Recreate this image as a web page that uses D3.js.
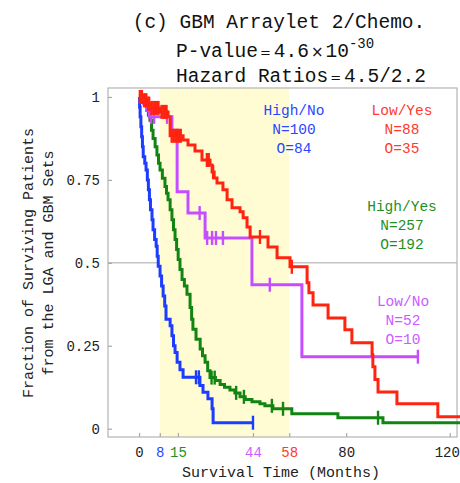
<!DOCTYPE html>
<html>
<head>
<meta charset="utf-8">
<script src="https://cdn.jsdelivr.net/npm/d3@7"></script>
<style>
  html, body { margin: 0; padding: 0; background: #fff; }
  svg { display: block; }
  text { font-family: "Liberation Mono", "DejaVu Sans Mono", monospace; }
</style>
</head>
<body>
<svg id="chart" width="460" height="483"></svg>
<script>
// Kaplan-Meier steps: [month, survival fraction after the drop]
const highNoSteps = [[0,1],[0.2,0.97],[0.4,0.94],[0.7,0.91],[1.0,0.88],[1.3,0.85],[1.6,0.82],[2.2,0.80],[2.7,0.78],[3.2,0.75],[3.6,0.72],[4.0,0.69],[4.4,0.66],[5.0,0.63],[5.4,0.60],[6.0,0.57],[6.6,0.55],[7.0,0.52],[7.4,0.49],[8.1,0.46],[8.7,0.43],[9.3,0.40],[9.9,0.37],[10.4,0.33],[12.0,0.31],[12.7,0.28],[13.3,0.25],[13.9,0.23],[14.7,0.20],[15.8,0.178],[17.0,0.155],[23.5,0.13],[24.7,0.11],[26.6,0.09],[28.2,0.06],[28.6,0.018]];
const highNoLast = 44;
const highNoCensored = [[22.0,0.155],[23.1,0.155],[44,0.018]];

const lowYesSteps = [[0,1],[1.5,0.99],[3.1,0.98],[4.2,0.967],[8.1,0.955],[11.2,0.94],[12.0,0.883],[17.0,0.87],[18.9,0.855],[21.6,0.837],[24.3,0.81],[27.4,0.795],[28.2,0.774],[29.0,0.756],[30.1,0.741],[32.4,0.72],[34.0,0.69],[35.9,0.666],[39.0,0.654],[40.2,0.636],[41.7,0.608],[42.9,0.578],[49.8,0.548],[53.3,0.515],[58.3,0.488],[64.9,0.44],[65.6,0.41],[67.2,0.373],[73.0,0.334],[79.5,0.298],[82.2,0.259],[90.0,0.223],[90.3,0.187],[91.1,0.148],[92.3,0.111],[99.6,0.075],[115.4,0.036]];
const lowYesLast = 124;
const lowYesCensored = [[0.3,1],[0.7,1],[1.1,1],[1.9,0.99],[2.4,0.99],[2.8,0.99],[3.5,0.98],[3.9,0.98],[4.8,0.967],[5.5,0.967],[6.2,0.967],[6.9,0.967],[7.5,0.967],[8.7,0.955],[9.4,0.955],[10.0,0.955],[10.6,0.955],[12.6,0.883],[13.3,0.883],[14.0,0.883],[14.7,0.883],[15.4,0.883],[16.1,0.883],[26.2,0.81],[26.9,0.81],[28.6,0.774],[46.7,0.578],[59.0,0.488]];

const highYesSteps = [[0,1],[1.2,0.995],[2.3,0.985],[3.0,0.96],[3.6,0.945],[4.2,0.93],[4.8,0.90],[5.4,0.875],[6.2,0.85],[6.9,0.825],[7.5,0.80],[8.1,0.78],[9.0,0.755],[10.0,0.73],[10.6,0.71],[11.2,0.69],[12.0,0.66],[12.7,0.63],[13.3,0.60],[13.9,0.57],[14.5,0.54],[15.1,0.51],[15.8,0.48],[16.6,0.45],[17.5,0.43],[18.5,0.405],[19.7,0.365],[20.3,0.33],[20.8,0.30],[22.0,0.27],[23.6,0.24],[24.5,0.22],[25.5,0.20],[26.5,0.175],[27.4,0.154],[29.5,0.145],[31.3,0.133],[33.0,0.125],[35.1,0.117],[37.0,0.108],[39.0,0.096],[41.0,0.088],[43.6,0.081],[46.7,0.075],[48.6,0.069],[51.7,0.06],[59.0,0.045],[76.8,0.033],[94.2,0.018]];
const highYesLast = 124;
const highYesCensored = [[28.0,0.154],[29.2,0.154],[37.5,0.108],[40.5,0.096],[51.3,0.069],[55.6,0.06],[92.3,0.033]];

const lowNoSteps = [[0,1],[1.8,0.98],[3.0,0.96],[4.0,0.94],[12.7,0.90],[14.7,0.714],[18.9,0.65],[25.5,0.575],[43.6,0.434],[62.9,0.217]];
const lowNoLast = 107.7;
const lowNoCensored = [[4.6,0.94],[5.8,0.94],[10.8,0.94],[23.4,0.65],[26.3,0.575],[28.2,0.575],[29.7,0.575],[32.4,0.575],[50.5,0.434],[107.7,0.217]];

// Legend groups
const groupNames = ["High/No", "Low/Yes", "High/Yes", "Low/No"];
const groupN = [100, 88, 257, 52];
const groupO = [84, 35, 192, 10];

// Axes
const xTicks = [0, 8, 15, 44, 58, 80, 120];
const yTicks = [0, 0.25, 0.5, 0.75, 1];
const yTickLabels = ["0", "0.25", "0.5", "0.75", "1"];
const bandMonths = [8, 58];

const colors = { highNo: "#1c3cff", lowYes: "#ff2410", highYes: "#128412", lowNo: "#c64cff" };
const textColors = { highNo: "#2a46ff", lowYes: "#ff3a2a", highYes: "#1f8f1f", lowNo: "#cc5cff" };
const xTickColors = { 8: "#2a46ff", 15: "#1f8f1f", 44: "#cc5cff", 58: "#ff3a2a" };

const svg = d3.select("#chart");
const plot = { left: 108, right: 457, top: 88, bottom: 437 };

const x = d3.scaleLinear().domain([-12, 122.8]).range([plot.left, plot.right]);
const y = d3.scaleLinear().domain([-0.025, 1.027]).range([plot.bottom, plot.top]);

// Reference line at 0.5
svg.append("line")
  .attr("x1", plot.left).attr("x2", plot.right)
  .attr("y1", y(0.5)).attr("y2", y(0.5))
  .attr("stroke", "#c4c4c4").attr("stroke-width", 1.5);

// Highlighted follow-up window
svg.append("rect")
  .attr("x", x(bandMonths[0])).attr("y", plot.top)
  .attr("width", x(bandMonths[1]) - x(bandMonths[0]))
  .attr("height", plot.bottom - plot.top)
  .attr("fill", "#fffcd4");

// Frame
svg.append("rect")
  .attr("x", plot.left).attr("y", plot.top)
  .attr("width", plot.right - plot.left).attr("height", plot.bottom - plot.top)
  .attr("fill", "none").attr("stroke", "#b4b4b4").attr("stroke-width", 1.2);

// Y axis ticks and labels
const yAxis = d3.axisLeft(y).tickValues(yTicks).tickSize(-4).tickPadding(8)
  .tickFormat((d, i) => yTickLabels[i]);
const gy = svg.append("g").attr("transform", `translate(${plot.left},0)`).call(yAxis);
gy.select(".domain").remove();
gy.selectAll(".tick line").attr("stroke", "#a8a8a8").attr("stroke-width", 1.2);
gy.selectAll(".tick text").attr("font-family", "Liberation Mono, monospace")
  .attr("font-size", 14).attr("fill", "#222");

// X axis ticks and labels
const xAxis = d3.axisBottom(x).tickValues(xTicks).tickSize(-4).tickPadding(10)
  .tickFormat(d3.format("d"));
const gx = svg.append("g").attr("transform", `translate(0,${plot.bottom})`).call(xAxis);
gx.select(".domain").remove();
gx.selectAll(".tick line").attr("stroke", "#a8a8a8").attr("stroke-width", 1.2);
gx.selectAll(".tick text").attr("font-family", "Liberation Mono, monospace")
  .attr("font-size", 14).attr("fill", d => xTickColors[d] || "#222")
  .attr("dx", d => d === 120 ? -3 : 0);

// Survival curves
const line = d3.line().x(d => x(d[0])).y(d => y(d[1])).curve(d3.curveStepAfter);
function drawCurve(steps, last, censored, color) {
  const pts = steps.concat([[last, steps[steps.length - 1][1]]]);
  svg.append("path").datum(pts)
    .attr("d", line).attr("fill", "none")
    .attr("stroke", color).attr("stroke-width", 3)
    .attr("stroke-linejoin", "miter");
  svg.append("g").selectAll("line").data(censored).join("line")
    .attr("x1", d => x(d[0])).attr("x2", d => x(d[0]))
    .attr("y1", d => y(d[1]) - 7).attr("y2", d => y(d[1]) + 7)
    .attr("stroke", color).attr("stroke-width", 2.4);
}
drawCurve(highNoSteps, highNoLast, highNoCensored, colors.highNo);
drawCurve(highYesSteps, highYesLast, highYesCensored, colors.highYes);
drawCurve(lowNoSteps, lowNoLast, lowNoCensored, colors.lowNo);
drawCurve(lowYesSteps, lowYesLast, lowYesCensored, colors.lowYes);

// Group legends
const legendSpots = [
  { cx: 294, cy: 110, color: textColors.highNo },
  { cx: 402, cy: 110, color: textColors.lowYes },
  { cx: 402, cy: 206, color: textColors.highYes },
  { cx: 403, cy: 301, color: textColors.lowNo }
];
groupNames.forEach((name, i) => {
  const s = legendSpots[i];
  const lines = [name, `N=${groupN[i]}`, `O=${groupO[i]}`];
  lines.forEach((t, j) => {
    svg.append("text")
      .attr("x", s.cx).attr("y", s.cy + j * 19 + 5)
      .attr("text-anchor", "middle")
      .attr("font-size", 14.5).attr("fill", s.color)
      .text(t);
  });
});

// Titles
svg.append("text").attr("x", 279).attr("y", 28).attr("text-anchor", "middle")
  .attr("font-size", 19.5).attr("fill", "#111").text("(c) GBM Arraylet 2/Chemo.");
const p = svg.append("text").attr("x", 176).attr("y", 57)
  .attr("font-size", 19.5).attr("fill", "#111");
p.append("tspan").text("P-value");
p.append("tspan").attr("font-family", "DejaVu Sans").attr("font-size", 13).attr("dx", 2).text("=");
p.append("tspan").attr("dx", 3).text("4.6");
p.append("tspan").attr("font-family", "DejaVu Sans").attr("font-size", 15).attr("dx", 2).text("×");
p.append("tspan").attr("dx", 2).text("10");
p.append("tspan").attr("font-size", 14).attr("dy", -9).text("-30");
const h = svg.append("text").attr("x", 176).attr("y", 82)
  .attr("font-size", 19.5).attr("fill", "#111");
h.append("tspan").text("Hazard Ratios");
h.append("tspan").attr("font-family", "DejaVu Sans").attr("font-size", 13).attr("dx", 2).text("=");
h.append("tspan").attr("dx", 3).text("4.5/2.2");

// Axis titles
const yl = svg.append("text").attr("transform", "translate(33,263) rotate(-90)")
  .attr("text-anchor", "middle").attr("font-size", 15).attr("fill", "#222");
yl.append("tspan").attr("x", 0).attr("y", 0).text("Fraction of Surviving Patients");
yl.append("tspan").attr("x", 0).attr("y", 20).text("from the LGA and GBM Sets");

svg.append("text").attr("x", 281).attr("y", 477).attr("text-anchor", "middle")
  .attr("font-size", 15).attr("fill", "#222").text("Survival Time (Months)");
</script>
</body>
</html>
